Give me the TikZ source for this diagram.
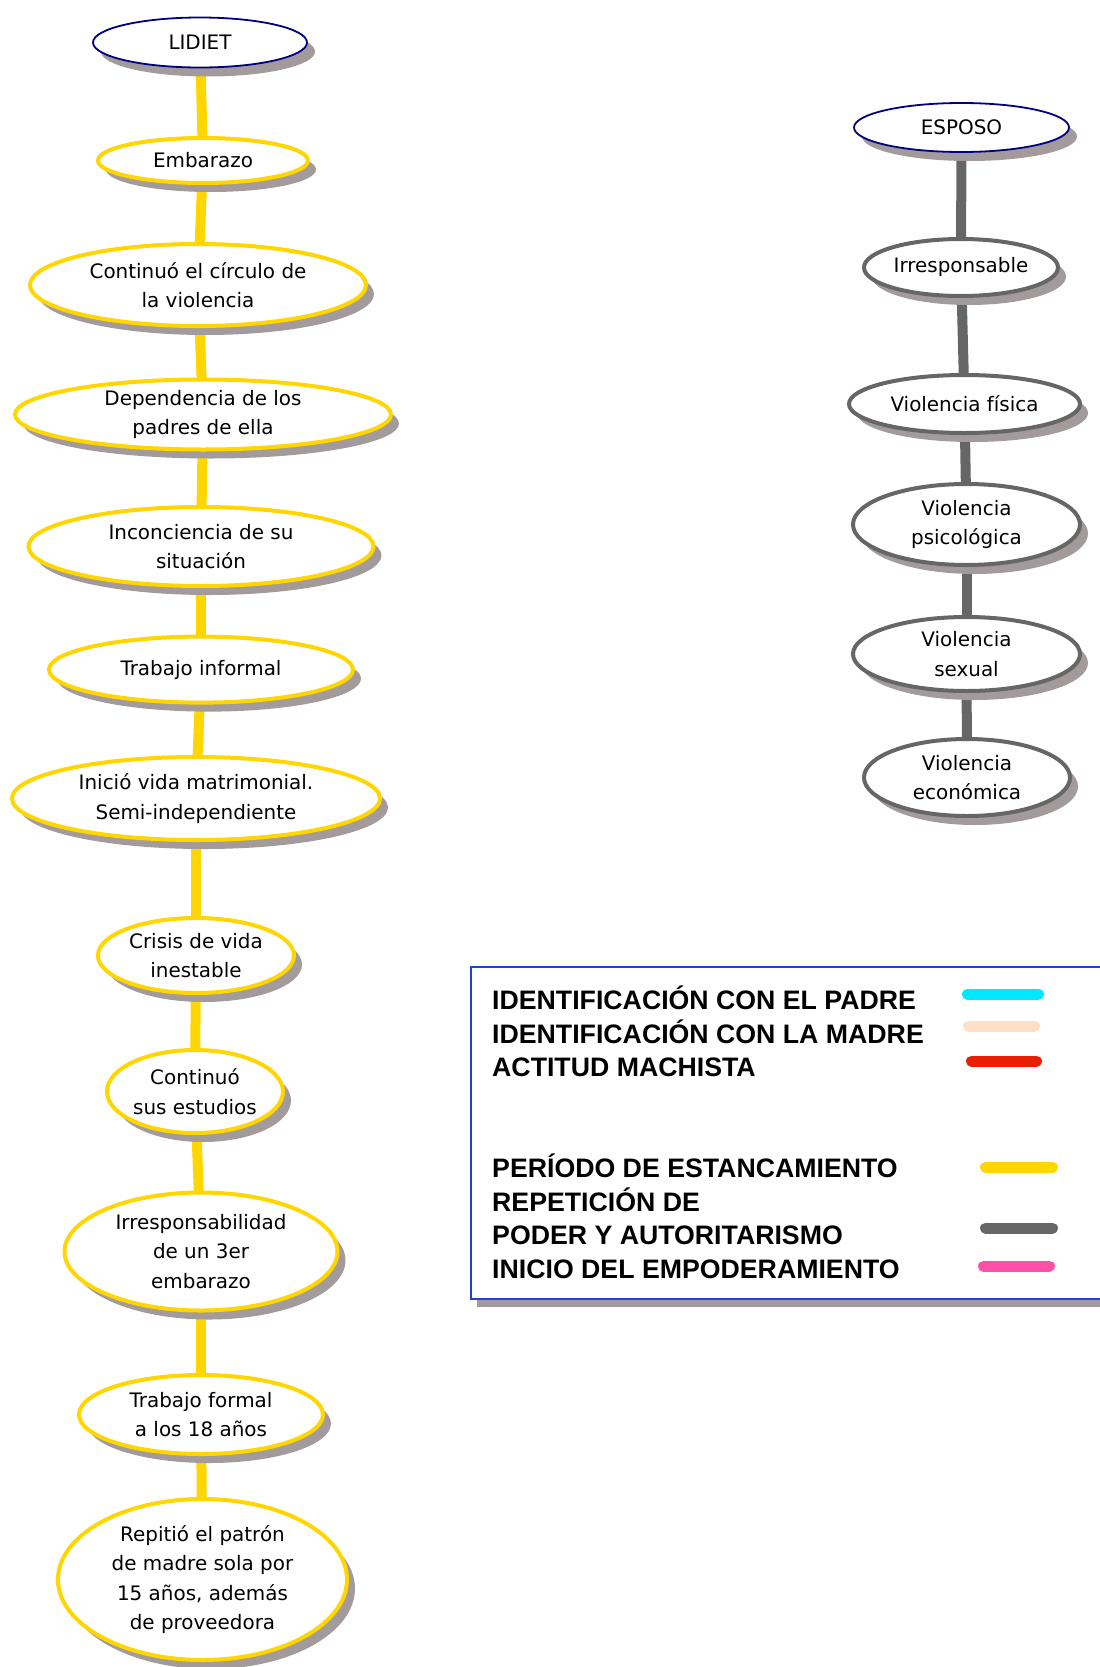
\documentclass[tikz,border=0pt]{standalone}
\usepackage{fontspec}
\newfontfamily\nodefont{DejaVu Sans}
\newfontfamily\legendfont{Liberation Sans}
\usetikzlibrary{shapes.geometric,shadows,backgrounds}
\definecolor{stall}{HTML}{FFD600}
\definecolor{power}{HTML}{666666}
\definecolor{headblue}{HTML}{000080}
\definecolor{shade}{HTML}{A39B9B}
\definecolor{boxblue}{HTML}{2040D8}
\definecolor{padre}{HTML}{00E8FF}
\definecolor{madre}{HTML}{FFE0C6}
\definecolor{machista}{HTML}{E82000}
\definecolor{empod}{HTML}{FF50A8}
\begin{document}
\begin{tikzpicture}[x=1bp,y=-1bp,
  sz/.style 2 args={minimum width=#1bp, minimum height=#2bp},
  bubble/.style={ellipse, fill=white, inner sep=0pt, align=center,
    font=\nodefont\fontsize{20}{29.5}\selectfont,
    drop shadow={shadow xshift=8bp, shadow yshift=-9bp, fill=shade, opacity=1}},
  yel/.style={bubble, draw=stall, line width=4bp},
  gry/.style={bubble, draw=power, line width=4bp},
  head/.style={bubble, draw=headblue, line width=1.8bp},
  ylink/.style={draw=stall, line width=10bp},
  glink/.style={draw=power, line width=10bp},
  swatch/.style={line width=11bp, line cap=round},
  legendtext/.style={anchor=base west, align=left, inner sep=0pt,
    font=\legendfont\bfseries\fontsize{26.8}{33.9}\selectfont},
]
\useasboundingbox (0,0) rectangle (1099,1667);

% left column: her path
\node[head, sz={214}{50}] (lidiet) at (200,42.5) {LIDIET};
\node[yel, sz={210}{45}] (embarazo) at (203,160.5) {Embarazo};
\node[yel, sz={336}{82}] (circulo) at (198,285) {Continuó el círculo de\\la violencia};
\node[yel, sz={376}{70}] (dependencia) at (203,414.5) {Dependencia de los\\padres de ella};
\node[yel, sz={345}{79}] (inconciencia) at (201,546.5) {Inconciencia de su\\situación};
\node[yel, sz={304}{66}] (informal) at (201,669.6) {Trabajo informal};
\node[yel, sz={368}{83}] (matrimonio) at (196,798.5) {Inició vida matrimonial.\\Semi-independiente};
\node[yel, sz={196}{75}] (crisis) at (196,955.5) {Crisis de vida\\inestable};
\node[yel, sz={176}{83}] (estudios) at (195,1091.5) {Continuó\\sus estudios};
\node[yel, sz={273}{118}] (tercer) at (201,1251.5) {Irresponsabilidad\\de un 3er\\embarazo};
\node[yel, sz={244}{79}] (formal) at (201,1414.5) {Trabajo formal\\a los 18 años};
\node[yel, sz={289}{161}] (patron) at (202.5,1579.5) {Repitió el patrón\\de madre sola por\\15 años, además\\de proveedora};

% right column: the husband
\node[head, sz={215}{49}] (esposo) at (961.5,127.5) {ESPOSO};
\node[gry, sz={194}{57}] (irresp) at (961,267.5) {Irresponsable};
\node[gry, sz={231}{58}] (fisica) at (964.5,404) {Violencia física};
\node[gry, sz={227}{81}] (psico) at (966.5,524.5) {Violencia\\psicológica};
\node[gry, sz={227}{74}] (sexual) at (966.5,654) {Violencia\\sexual};
\node[gry, sz={206}{77}] (econ) at (967,777.5) {Violencia\\económica};

% connectors behind the bubbles
\begin{scope}[on background layer]
  \foreach \a/\b in {lidiet/embarazo, embarazo/circulo, circulo/dependencia,
      dependencia/inconciencia, inconciencia/informal, informal/matrimonio,
      matrimonio/crisis, crisis/estudios, estudios/tercer, tercer/formal,
      formal/patron}
    \draw[ylink] (\a.center) -- (\b.center);
  \foreach \a/\b in {esposo/irresp, irresp/fisica, fisica/psico,
      psico/sexual, sexual/econ}
    \draw[glink] (\a.center) -- (\b.center);
\end{scope}

% legend (each block is placed by the baseline of its last line)
\path[draw=boxblue, line width=1.5bp, fill=white,
  drop shadow={shadow xshift=6bp, shadow yshift=-8bp, fill=shade, opacity=1}]
  (471,967) rectangle (1130,1299);
\node[legendtext] (legendtop) at (492,1076.8)
  {IDENTIFICACIÓN CON EL PADRE\\IDENTIFICACIÓN CON LA MADRE\\ACTITUD MACHISTA};
\node[legendtext] (legendbottom) at (492,1278.7)
  {PERÍODO DE ESTANCAMIENTO\\REPETICIÓN DE\\PODER Y AUTORITARISMO\\INICIO DEL EMPODERAMIENTO};
\draw[swatch, padre] (967.5,994) -- (1038.5,994);
\draw[swatch, madre] (968.5,1026) -- (1034.5,1026);
\draw[swatch, machista] (971.5,1061) -- (1036.5,1061);
\draw[swatch, stall] (985.5,1167) -- (1052.5,1167);
\draw[swatch, power] (985.5,1228) -- (1052.5,1228);
\draw[swatch, empod] (983.5,1266) -- (1049.5,1266);
\end{tikzpicture}
\end{document}
